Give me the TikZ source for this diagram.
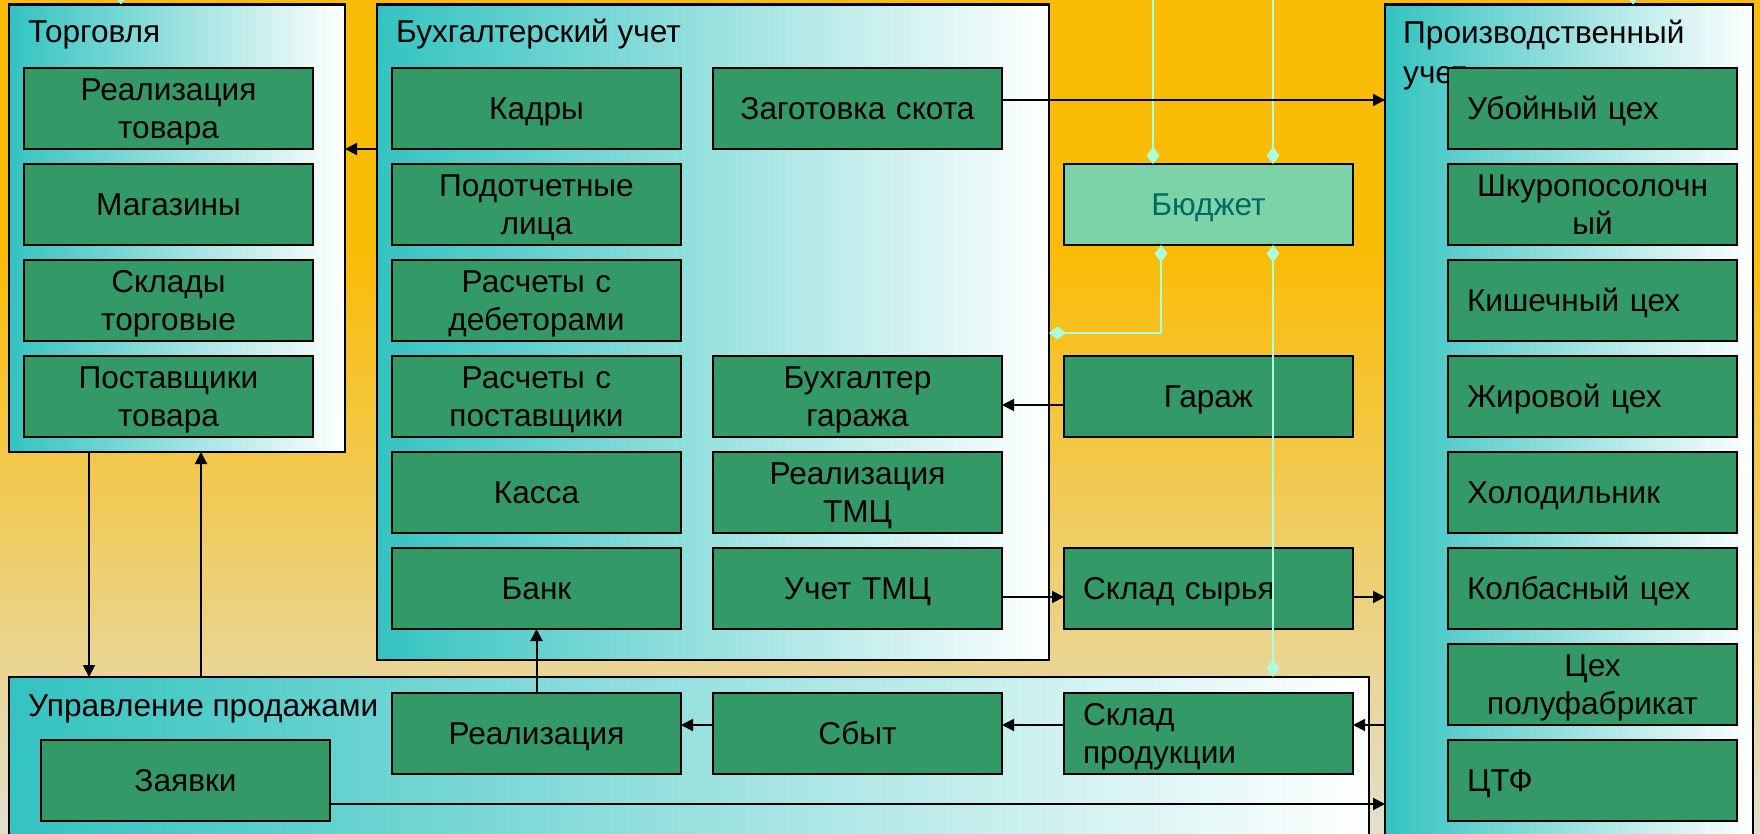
\documentclass[tikz,border=0pt]{standalone}
\usepackage{fontspec}
\setmainfont{Liberation Sans}
\usetikzlibrary{arrows.meta}
\definecolor{teal1}{HTML}{33C3C0}
\definecolor{boxg}{HTML}{339966}
\definecolor{budg}{HTML}{7DD3A8}
\definecolor{budt}{HTML}{006B63}
\definecolor{cyc}{HTML}{AAFFDD}
\definecolor{bgtop}{HTML}{FBBC05}
\definecolor{bgmid}{HTML}{F0CC5E}
\definecolor{bgbot}{HTML}{E3DFD0}
\pgfdeclareverticalshading{bgshade}{100bp}{color(0bp)=(bgbot); color(25bp)=(bgbot); color(43.8bp)=(bgmid); color(60bp)=(bgtop); color(100bp)=(bgtop)}
\tikzset{
  cont/.style={draw=black, line width=2.5pt, left color=teal1, right color=white, anchor=north west, inner sep=0pt, outer sep=0pt},
  ttl/.style={anchor=base west, inner sep=0pt, font=\fontsize{31.6}{38}\selectfont},
  box/.style={draw=black, line width=2.5pt, fill=boxg, minimum width=289pt, minimum height=81pt, anchor=north west, inner sep=0pt, outer sep=0pt, text width=251pt, align=center, font=\fontsize{31.6}{38}\selectfont, text height=22.6pt, text depth=0pt},
  lbox/.style={box, align=left},
  two/.style={text depth=38pt},
  arr/.style={draw=black, line width=2pt, -{Triangle[length=12pt,width=12pt]}},
  cyl/.style={draw=cyc, line width=2.5pt, -{Diamond[length=17pt,width=13pt]}},
  cyl2/.style={draw=cyc, line width=2.5pt, {Diamond[length=17pt,width=13pt]}-{Diamond[length=17pt,width=13pt]}}
}
\begin{document}
\begin{tikzpicture}[x=1pt,y=-1pt]
\useasboundingbox (0,0) rectangle (1760,834);
\clip (0,0) rectangle (1760,834);
\shade[shading=bgshade] (0,0) rectangle (1760,834);

% containers
\node[cont, minimum width=336pt, minimum height=447.5pt] (torg) at (9,4.5) {};
\node[cont, minimum width=672pt, minimum height=655.5pt] (buh) at (377,4.5) {};
\node[cont, minimum width=368pt, minimum height=860pt] (prod) at (1385,4.5) {};
\node[cont, minimum width=1360pt, minimum height=200pt] (upr) at (9,677) {};

% titles
\node[ttl] (torgT) at (28,43) {Торговля};
\node[ttl] (buhT) at (396,43) {Бухгалтерский учет};
\node[ttl] (prodT1) at (1403,44) {Производственный};
\node[ttl] (prodT2) at (1403,84) {учет};
\node[ttl] (uprT) at (28,716) {Управление продажами};

% Торговля
\node[box, two] (t1) at (24,68) {Реализация\\товара};
\node[box] (t2) at (24,164) {Магазины};
\node[box, two] (t3) at (24,260) {Склады\\торговые};
\node[box, two] (t4) at (24,356) {Поставщики\\товара};

% Бухгалтерский учет
\node[box] (kadry) at (392,68) {Кадры};
\node[box, two] (podot) at (392,164) {Подотчетные\\лица};
\node[box, two] (rdeb) at (392,260) {Расчеты с\\дебеторами};
\node[box, two] (rpost) at (392,356) {Расчеты с\\поставщики};
\node[box] (kassa) at (392,452) {Касса};
\node[box] (bank) at (392,548) {Банк};
\node[box] (zag) at (713,68) {Заготовка скота};
\node[box, two] (bgar) at (713,356) {Бухгалтер\\гаража};
\node[box, two] (rtmc) at (713,452) {Реализация\\ТМЦ};
\node[box] (utmc) at (713,548) {Учет ТМЦ};

% middle column
\node[box, fill=budg, text=budt] (budget) at (1064,164) {Бюджет};
\node[box] (garage) at (1064,356) {Гараж};
\node[lbox] (sklsyr) at (1064,548) {Склад сырья};

% Управление продажами
\node[box] (real) at (392,693) {Реализация};
\node[box] (sbyt) at (713,693) {Сбыт};
\node[lbox, two] (sklprod) at (1064,693) {Склад\\продукции};
\node[box] (zayav) at (41,740) {Заявки};

% Производственный учет
\node[lbox] (ub) at (1448,68) {Убойный цех};
\node[box, two] (shk) at (1448,164) {Шкуропосолочн\\ый};
\node[lbox] (kish) at (1448,260) {Кишечный цех};
\node[lbox] (zhir) at (1448,356) {Жировой цех};
\node[lbox] (hol) at (1448,452) {Холодильник};
\node[lbox] (kolb) at (1448,548) {Колбасный цех};
\node[box, two] (polu) at (1448,644) {Цех\\полуфабрикат};
\node[lbox] (ctf) at (1448,740) {ЦТФ};

% cyan connectors
\coordinate (c1) at (1153,-30);
\coordinate (c2) at (1273,-30);
\coordinate (c3) at (121,-40);
\coordinate (c4) at (1633,-40);
\coordinate (c5) at (1161,333);
\draw[cyl] (c1) -- (c1 |- budget.north);
\draw[cyl] (c2) -- (c2 |- budget.north);
\draw[cyl] (c3) -- (c3 |- torg.north);
\draw[cyl] (c4) -- (c4 |- prod.north);
\draw[cyl2, line join=miter] (c5 |- budget.south) -- (c5) -- (buh.east |- c5);
\draw[cyl2] (c2 |- budget.south) -- (c2 |- upr.north);

% black arrows
\draw[arr] (buh.west |- 0,149) -- (torg.east |- 0,149);
\draw[arr] (zag.east |- 0,100) -- (prod.west |- 0,100);
\draw[arr] (garage.west |- 0,405) -- (bgar.east |- 0,405);
\draw[arr] (utmc.east |- 0,597) -- (sklsyr.west |- 0,597);
\draw[arr] (sklsyr.east |- 0,597) -- (prod.west |- 0,597);
\draw[arr] (prod.west |- 0,725) -- (sklprod.east |- 0,725);
\draw[arr] (sklprod.west |- 0,725) -- (sbyt.east |- 0,725);
\draw[arr] (sbyt.west |- 0,725) -- (real.east |- 0,725);
\draw[arr] (real.north) -- (bank.south);
\draw[arr] (89,0 |- torg.south) -- (89,0 |- upr.north);
\draw[arr] (201,0 |- upr.north) -- (201,0 |- torg.south);
\draw[arr] (zayav.east |- 0,804) -- (prod.west |- 0,804);
\end{tikzpicture}
\end{document}
